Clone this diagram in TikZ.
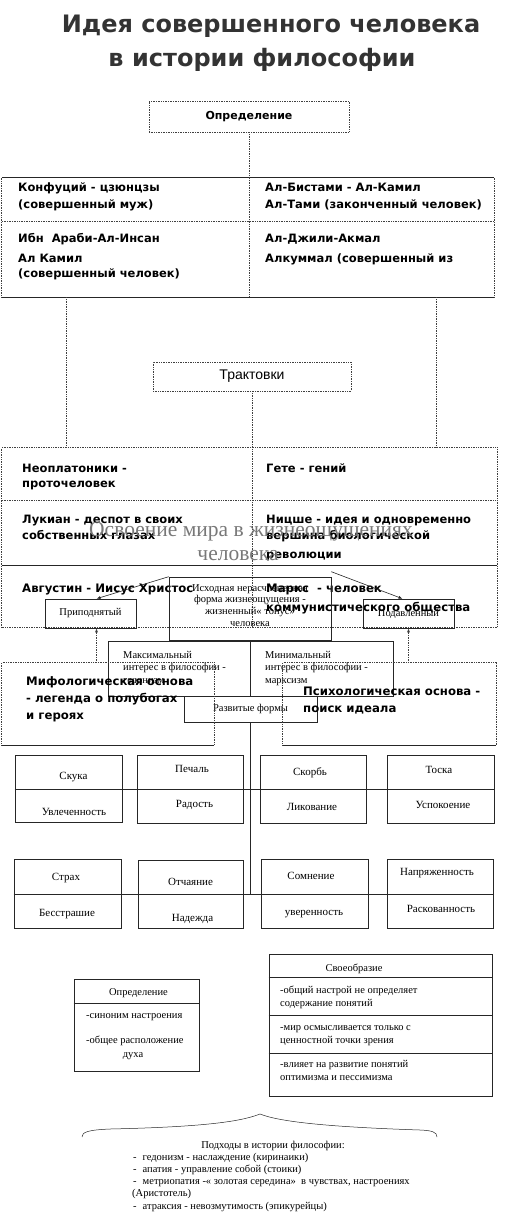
\documentclass[tikz,border=0pt]{standalone}
\usepackage{fontspec}
\setmainfont{Liberation Serif}
\newfontfamily\dvsans{DejaVu Sans}
\newfontfamily\lsans{Liberation Sans}
\usetikzlibrary{arrows.meta,positioning,calc}
\definecolor{titlegray}{RGB}{51,51,51}
\definecolor{softgray}{RGB}{120,120,120}
\tikzset{
  dotline/.style={densely dotted, line width=0.7pt, draw=black!75},
  solidline/.style={line width=0.6pt, draw=black!85},
  plainbox/.style={solidline, draw, inner sep=0pt},
  dotbox/.style={dotline, draw, inner sep=0pt},
  frame/.style={inner sep=0pt},
  cell/.style={anchor=base west, inner sep=0pt, font=\dvsans\bfseries\fontsize{11.5}{13}\selectfont},
  bigcell/.style={cell, font=\dvsans\bfseries\fontsize{11.7}{14}\selectfont},
  note/.style={anchor=base west, inner sep=0pt, font=\fontsize{10.5}{12}\selectfont},
  emo/.style={anchor=base, inner sep=0pt, font=\fontsize{11}{13}\selectfont},
}

\begin{document}
\begin{tikzpicture}[x=1pt, y=-1pt, >={Latex[length=4pt,width=3pt]}]
  \useasboundingbox (0,0) rectangle (520,1214);

  % title
  \node[anchor=base, text=titlegray, font=\dvsans\bfseries\fontsize{24}{28}\selectfont] (title1) at (271,33) {Идея совершенного человека};
  \node[anchor=base, text=titlegray, font=\dvsans\bfseries\fontsize{24}{28}\selectfont] (title2) at (262,67) {в истории философии};

  % definitions
  \node[dotbox, minimum width=200pt, minimum height=31pt, font=\dvsans\bfseries\fontsize{11}{13}\selectfont] (defn) at (249,116.5) {Определение};
  \node[frame, minimum width=492pt, minimum height=119pt] (t1) at (248,237.5) {};
  \draw[solidline] (t1.north west) -- (t1.north east);
  \draw[solidline] (t1.south west) -- (t1.south east);
  \draw[dotline] (t1.north west) -- (t1.south west);
  \draw[dotline] (t1.north east) -- (t1.south east);
  \draw[dotline] ([yshift=-44pt]t1.north west) -- ([yshift=-44pt]t1.north east);
  \draw[dotline] (defn.south) -- (defn.south |- t1.south);

  \node[cell] (konf1) at (18,191.5) {Конфуций - цзюнцзы};
  \node[cell] (konf2) at (18,209) {(совершенный муж)};
  \node[cell] (bist1) at (265,191.5) {Ал-Бистами - Ал-Камил};
  \node[cell] (bist2) at (265,209) {Ал-Тами (законченный человек)};
  \node[cell] (ibn1) at (18,243) {Ибн\ \ Араби-Ал-Инсан};
  \node[cell] (ibn2) at (18,263) {Ал Камил};
  \node[cell] (ibn3) at (18,278) {(совершенный человек)};
  \node[cell] (jili1) at (265,243) {Ал-Джили-Акмал};
  \node[cell] (jili2) at (265,263) {Алкуммал (совершенный из};

  % interpretations
  \node[dotbox, minimum width=198pt, minimum height=29pt, font=\lsans\fontsize{14}{16}\selectfont] (trakt) at (252,376.5) {Трактовки};
  \node[frame, minimum width=495pt, minimum height=179pt] (t2) at (249.5,537.5) {};
  \draw[dotline] ([xshift=65pt]t1.south west) -- ([xshift=65pt]t1.south west |- t2.north);
  \draw[dotline] ([xshift=435pt]t1.south west) -- ([xshift=435pt]t1.south west |- t2.north);
  \draw[dotline] (t2.north west) -- (t2.north east) -- (t2.south east) -- (t2.south west) -- cycle;
  \draw[dotline] ([yshift=-53pt]t2.north west) -- ([yshift=-53pt]t2.north east);
  \draw[solidline] ([yshift=-117pt]t2.north west) -- ([yshift=-117pt]t2.north east);
  \draw[dotline] (trakt.south) -- (trakt.south |- t2.south);

  \node[cell] (neo1) at (22,472) {Неоплатоники -};
  \node[cell] (neo2) at (22,487) {проточеловек};
  \node[cell] (gete) at (266,472) {Гете - гений};
  \node[cell] (luk1) at (22,523) {Лукиан - деспот в своих};
  \node[cell] (luk2) at (22,539) {собственных глазах};
  \node[cell] (nitz1) at (266,523) {Ницше - идея и одновременно};
  \node[cell] (nitz2) at (266,539) {вершина биологической};
  \node[cell] (nitz3) at (266,558) {революции};
  \node[bigcell] (avg) at (22,592) {Августин - Иисус Христос};
  \node[bigcell] (marx1) at (266,592) {Маркс\ \ - человек};
  \node[bigcell] (marx2) at (266,611) {коммунистического общества};

  \node[anchor=base, inner sep=0pt, text=softgray, font=\fontsize{21.5}{24}\selectfont] (osv1) at (251,536) {Освоение мира в жизнеощущениях};
  \node[anchor=base, inner sep=0pt, text=softgray, font=\fontsize{21.5}{24}\selectfont] (osv2) at (238,560) {человека};

  % forms
  \node[plainbox, minimum width=162pt, minimum height=63pt] (isx) at (250,608.5) {};
  \node[anchor=north, inner sep=0pt, align=center, font=\fontsize{10.5}{11.7}\selectfont] (isxtxt) at (250,584) {Исходная нерасчлененная\\ форма жизнеощущения -\\ жизненный« тонус»\\ человека};
  \node[plainbox, minimum width=91pt, minimum height=29pt, font=\fontsize{10.5}{12}\selectfont] (pripod) at (90.5,613.5) {Приподнятый};
  \node[plainbox, minimum width=91pt, minimum height=29pt, font=\fontsize{10.5}{12}\selectfont] (podav) at (408.5,613.5) {Подавленный};
  \draw[solidline, ->] (isx.north west) -- ([xshift=6pt]pripod.north);
  \draw[solidline, ->] ([yshift=5pt]isx.north east) -- ([xshift=-6pt]podav.north);

  \node[plainbox, minimum width=142pt, minimum height=55pt] (maxb) at (179,668.5) {};
  \node[plainbox, minimum width=143pt, minimum height=55pt] (minb) at (321.5,668.5) {};
  \node[plainbox, minimum width=133pt, minimum height=26pt, font=\fontsize{10.5}{12}\selectfont] (razv) at (250.5,709) {Развитые формы};
  \node[note] (max1) at (123,658) {Максимальный};
  \node[note] (max2) at (123,670) {интерес в философии -};
  \node[note] (max3) at (123,683) {гедонизм};
  \node[note] (min1) at (265,658) {Минимальный};
  \node[note] (min2) at (265,670) {интерес в философии -};
  \node[note] (min3) at (265,683) {марксизм};

  \node[frame, minimum width=212pt, minimum height=82pt] (mif) at (108,704) {};
  \node[frame, minimum width=213pt, minimum height=82pt] (psy) at (389.5,704) {};
  \draw[dotline] (mif.south west) -- (mif.north west) -- (mif.north east) -- (mif.south east);
  \draw[solidline] (mif.south west) -- (mif.south east);
  \draw[dotline] (psy.south west) -- (psy.north west) -- (psy.north east) -- (psy.south east);
  \draw[solidline] (psy.south west) -- (psy.south east);
  \node[bigcell] (mif1) at (26,685) {Мифологическая основа};
  \node[bigcell] (mif2) at (26,702) {- легенда о полубогах};
  \node[bigcell] (mif3) at (26,719) {и героях};
  \node[bigcell] (psy1) at (303,695) {Психологическая основа -};
  \node[bigcell] (psy2) at (303,712) {поиск идеала};
  \draw[dotline, ->] ($(pripod.south |- mif.north)+(6,0)$) -- ($(pripod.south)+(6,0)$);
  \draw[dotline, ->] (podav.south |- psy.north) -- (podav.south);

  % moods
  \node[plainbox, minimum width=107pt, minimum height=67pt] (e1) at (68.5,789) {};
  \node[plainbox, minimum width=106pt, minimum height=68pt] (e2) at (190,789) {};
  \node[plainbox, minimum width=106pt, minimum height=68pt] (e3) at (313,789) {};
  \node[plainbox, minimum width=107pt, minimum height=68pt] (e4) at (440.5,789) {};
  \node[plainbox, minimum width=107pt, minimum height=69pt] (e5) at (67.5,894) {};
  \node[plainbox, minimum width=105pt, minimum height=68pt] (e6) at (190.5,894) {};
  \node[plainbox, minimum width=107pt, minimum height=69pt] (e7) at (314.5,894) {};
  \node[plainbox, minimum width=106pt, minimum height=69pt] (e8) at (440,894) {};
  \draw[solidline] (e1.west) -- (e4.east);
  \draw[solidline] (e5.west) -- (e8.east);
  \draw[solidline] (razv.south) -- (razv.south |- e6.east);

  \node[emo] (skuka) at (73.5,779) {Скука};
  \node[emo] (uvl) at (74,815) {Увлеченность};
  \node[emo] (pech) at (192,772) {Печаль};
  \node[emo] (rad) at (194.5,807) {Радость};
  \node[emo] (skor) at (310,775) {Скорбь};
  \node[emo] (lik) at (312,810) {Ликование};
  \node[emo] (toska) at (439,773) {Тоска};
  \node[emo] (usp) at (443,808) {Успокоение};
  \node[emo] (strah) at (66,880) {Страх};
  \node[emo] (bess) at (67,916) {Бесстрашие};
  \node[emo] (otch) at (190.5,885) {Отчаяние};
  \node[emo] (nad) at (192.5,921) {Надежда};
  \node[emo] (somn) at (311,879) {Сомнение};
  \node[emo] (uver) at (314,915) {уверенность};
  \node[emo] (napr) at (437,875) {Напряженность};
  \node[emo] (rask) at (441,912) {Раскованность};

  % mood: definition and features
  \node[plainbox, minimum width=125pt, minimum height=92pt] (opr) at (136.5,1025) {};
  \draw[solidline] ([yshift=-25pt]opr.north west) -- ([yshift=-25pt]opr.north east);
  \node[emo, font=\fontsize{10.5}{12}\selectfont] (oprh) at (138.5,995) {Определение};
  \node[note] (opr1) at (86,1018) {-синоним настроения};
  \node[note] (opr2) at (86,1043) {-общее расположение};
  \node[emo, font=\fontsize{10.5}{12}\selectfont] (opr3) at (133,1057) {духа};

  \node[plainbox, minimum width=223pt, minimum height=142pt] (svo) at (380.5,1025) {};
  \draw[solidline] ([yshift=-24pt]svo.north west) -- ([yshift=-24pt]svo.north east);
  \draw[solidline] ([yshift=-62pt]svo.north west) -- ([yshift=-62pt]svo.north east);
  \draw[solidline] ([yshift=-100pt]svo.north west) -- ([yshift=-100pt]svo.north east);
  \node[emo, font=\fontsize{10.5}{12}\selectfont] (svoh) at (354,971) {Своеобразие};
  \node[note] (svo1) at (280,993) {-общий настрой не определяет};
  \node[note] (svo2) at (280,1006) {содержание понятий};
  \node[note] (svo3) at (280,1030) {-мир осмысливается только с};
  \node[note] (svo4) at (280,1043) {ценностной точки зрения};
  \node[note] (svo5) at (280,1067) {-влияет на развитие понятий};
  \node[note] (svo6) at (280,1080) {оптимизма и пессимизма};

  % approaches
  \draw[solidline, line width=0.5pt] (82,1137) .. controls (82,1132) and (88,1130) .. (110,1129)
    .. controls (200,1127) and (240,1122) .. (260,1114)
    .. controls (280,1122) and (330,1127) .. (420,1130)
    .. controls (432,1130.5) and (437,1132) .. (437,1137);
  \node[emo, font=\fontsize{10.5}{12}\selectfont] (podh) at (273,1148) {Подходы в истории философии:};
  \node[note] (ap1) at (133,1160) {-\hspace{6pt}гедонизм - наслаждение (киринаики)};
  \node[note] (ap2) at (133,1172) {-\hspace{6pt}апатия - управление собой (стоики)};
  \node[note] (ap3) at (133,1184) {-\hspace{6pt}метриопатия -« золотая середина»\ \ в чувствах, настроениях};
  \node[note] (ap4) at (132,1196) {(Аристотель)};
  \node[note] (ap5) at (133,1209) {-\hspace{6pt}атраксия - невозмутимость (эпикурейцы)};
\end{tikzpicture}
\end{document}
